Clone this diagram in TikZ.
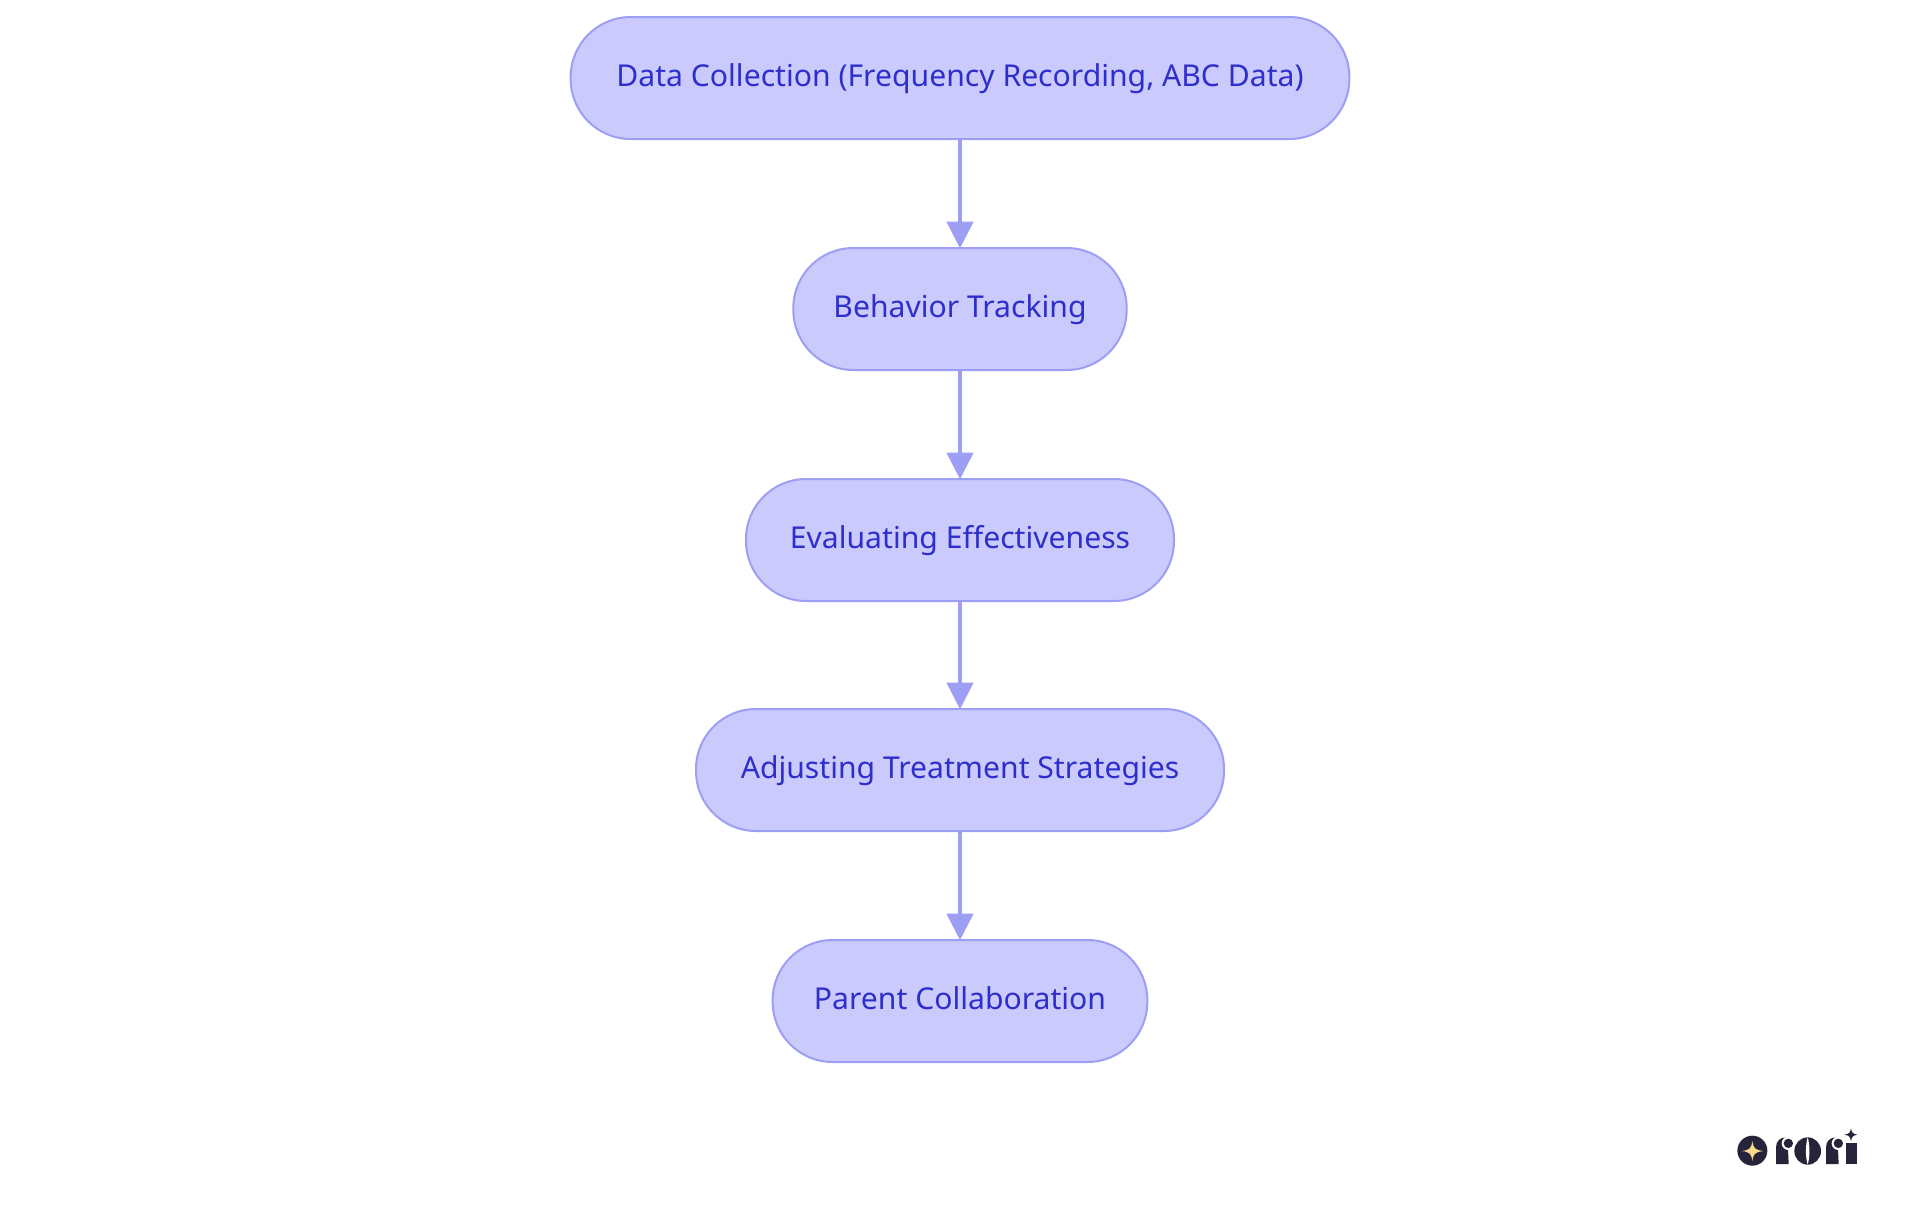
\documentclass[tikz,border=0pt]{standalone}
\usepackage{fontspec}
\setmainfont{Noto Sans}
\usetikzlibrary{arrows.meta}
\definecolor{boxfill}{HTML}{CACAFD}
\definecolor{boxline}{HTML}{9C9FF3}
\definecolor{boxtext}{HTML}{2E2ECC}
\definecolor{logodark}{HTML}{26243A}
\definecolor{logostar}{HTML}{FFD98A}
\tikzset{
  stepbox/.style={draw=boxline, fill=boxfill, text=boxtext, line width=1.5pt, rounded corners=45pt,
    minimum height=91.5pt, inner sep=0pt, text height=16.5pt, text depth=3.5pt, font=\fontsize{22.6}{26}\selectfont},
  flow/.style={draw=boxline, line width=3.3pt, shorten >=-1pt, -{Triangle[width=19.5pt,length=20pt]}}
}
\begin{document}
\begin{tikzpicture}[x=0.75pt,y=-0.75pt]
\useasboundingbox (0,0) rectangle (1920,1215);

\node[stepbox, minimum width=584pt] (collect) at (960, 78) {Data Collection (Frequency Recording, ABC Data)};
\node[stepbox, minimum width=250pt] (track) at (960, 309) {Behavior Tracking};
\node[stepbox, minimum width=321pt] (evaluate) at (960, 540) {Evaluating Effectiveness};
\node[stepbox, minimum width=396pt] (adjust) at (960, 770) {Adjusting Treatment Strategies};
\node[stepbox, minimum width=281pt] (parent) at (960, 1001) {Parent Collaboration};

\draw[flow] (collect) -- (track);
\draw[flow] (track) -- (evaluate);
\draw[flow] (evaluate) -- (adjust);
\draw[flow] (adjust) -- (parent);

% logo, in steps of a third of a pixel
\begin{scope}[xshift=1275pt, yshift=-825pt, x=0.25pt, y=-0.25pt]
\fill[logodark] (157, 152) circle (11.25pt);
\fill[logostar] (157, 123) .. controls (160, 145) and (165, 150) .. (190, 153)
  .. controls (165, 156) and (160, 161) .. (157, 183)
  .. controls (154, 161) and (149, 156) .. (126, 153)
  .. controls (149, 150) and (154, 145) .. (157, 123) -- cycle;
\foreach \dx in {0, 150} {
  \fill[logodark] (228+\dx, 192) -- (228+\dx, 142) .. controls (228+\dx, 124) and (240+\dx, 112) .. (258+\dx, 112)
    -- (264+\dx, 150) -- (266+\dx, 192) -- cycle;
  \fill[white] (265+\dx, 130) circle (5pt);
  \fill[logodark] (265+\dx, 130) circle (3.5pt);
}
\fill[logodark] (323, 153) ellipse (10pt and 10.25pt);
\fill[white] (323, 112) .. controls (330, 135) and (330, 171) .. (323, 194)
  .. controls (316, 171) and (316, 135) .. (323, 112) -- cycle;
\fill[logodark] (437, 128) -- (470, 128) -- (470, 192) -- (437, 192) -- cycle;
\fill[logodark] (453, 85) .. controls (455, 98) and (459, 102) .. (472, 104)
  .. controls (459, 106) and (455, 110) .. (453, 124)
  .. controls (451, 110) and (447, 106) .. (433, 104)
  .. controls (447, 102) and (451, 98) .. (453, 85) -- cycle;
\end{scope}
\end{tikzpicture}
\end{document}
